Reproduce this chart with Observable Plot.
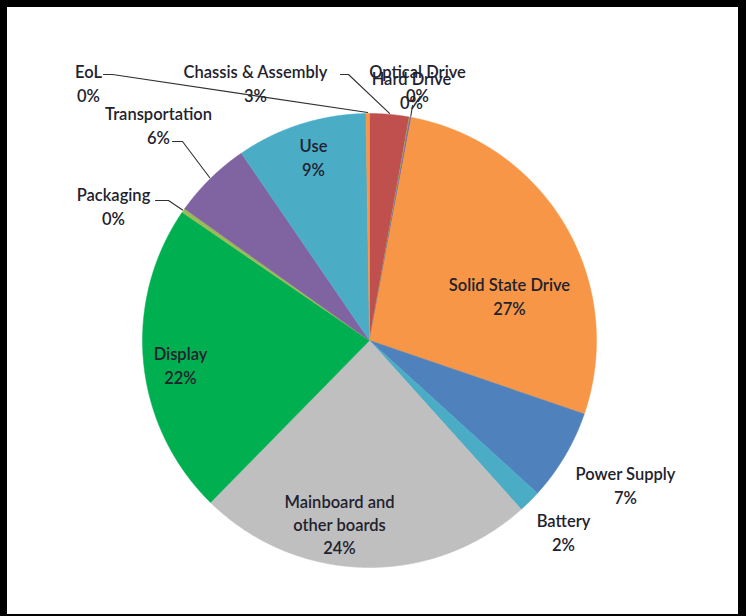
<!DOCTYPE html>
<html><head><meta charset="utf-8">
<script src="https://cdn.jsdelivr.net/npm/d3@7"></script>
<script src="https://cdn.jsdelivr.net/npm/@observablehq/plot@0.6"></script>
<style>
html,body{margin:0;padding:0;background:#fff;}
#wrap{position:relative;width:746px;height:616px;overflow:hidden;}
#chart{position:absolute;left:0;top:0;}
#frame{position:absolute;left:0;top:0;width:746px;height:616px;box-sizing:border-box;border-style:solid;border-color:#000;border-width:7px 8px 2px 7px;pointer-events:none;}
</style></head><body><div id="wrap"><div id="chart"></div><div id="frame"></div></div>
<script>
// ---- data ----
const categories = ["Chassis & Assembly","Optical Drive","Hard Drive","Solid State Drive","Power Supply","Battery","Mainboard and other boards","Display","Packaging","Transportation","Use","EoL"];
const labelNames = ["Chassis & Assembly","Optical Drive","Hard Drive","Solid State Drive","Power Supply","Battery","Mainboard and\nother boards","Display","Packaging","Transportation","Use","EoL"];
const shares = [2.8, 0.05, 0.1, 27.3, 6.5, 1.6, 24.0, 22.2, 0.3, 5.6, 9.3, 0.25];
const colors = ["#C0504D","#9BBB59","#8064A2","#F79646","#4F81BD","#4BACC6","#BFBFBF","#00B050","#9BBB59","#8064A2","#4BACC6","#F79646"];

// ---- layout (pixel offsets from pie centre) ----
const W = 746, H = 616, cx = 369, cy = 340, R = 227;
const labelPos = [
  [-114,-258],[48,-258],[42,-251],[140,-45],[256,144],[194,191],
  [-30,183],[-189,24],[-256,-135],[-211,-216],[-56,-184],[-281,-258]
];
// leader line start points (elbow), null = no leader
const leaderStart = [
  [[-29,-266],[-21,-266]], null, [[43,-235]], null, null, null,
  null, null, [[-214,-140],[-201,-140]], [[-197,-199],[-187,-199]], null, [[-266,-266],[-257,-266]]
];

const total = d3.sum(shares);
const arcs = d3.pie().sort(null).value(d => d)(shares);

const slicePts = [];
arcs.forEach((a, i) => {
  const name = categories[i];
  slicePts.push({name, x: 0, y: 0});
  const n = Math.max(2, Math.ceil((a.endAngle - a.startAngle) / 0.004));
  for (let k = 0; k <= n; k++) {
    const t = a.startAngle + (a.endAngle - a.startAngle) * k / n;
    slicePts.push({name, x: R * Math.sin(t), y: -R * Math.cos(t)});
  }
  slicePts.push({name, x: 0, y: 0});
});

const leaderPts = [];
arcs.forEach((a, i) => {
  if (!leaderStart[i]) return;
  const name = categories[i];
  leaderStart[i].forEach(p => leaderPts.push({name, x: p[0], y: p[1]}));
  const m = (a.startAngle + a.endAngle) / 2;
  leaderPts.push({name, x: (R + 1) * Math.sin(m), y: -(R + 1) * Math.cos(m)});
});

const labels = arcs.map((a, i) => ({
  name: categories[i],
  text: labelNames[i] + "\n" + Math.round(shares[i] / total * 100) + "%",
  x: labelPos[i][0], y: labelPos[i][1]
}));

const chart = Plot.plot({
  width: W, height: H, margin: 0,
  style: {background: "transparent", overflow: "visible"},
  x: {domain: [-cx, W - cx], axis: null},
  y: {domain: [H - cy, -cy], axis: null},
  color: {domain: categories, range: colors},
  marks: [
    Plot.line(slicePts, {x: "x", y: "y", z: "name", fill: "name", stroke: "name", strokeWidth: 0.5, curve: "linear"}),
    Plot.line(leaderPts, {x: "x", y: "y", z: "name", stroke: "#303030", strokeWidth: 1.1, curve: "linear"}),
    Plot.text(labels, {x: "x", y: "y", text: "text", fontSize: 16.5, fontWeight: 600, lineHeight: 1.42, fill: "#22222e", fontFamily: "Lato", textAnchor: "middle", lineAnchor: "middle"})
  ]
});
document.getElementById("chart").appendChild(chart);
</script></body></html>
